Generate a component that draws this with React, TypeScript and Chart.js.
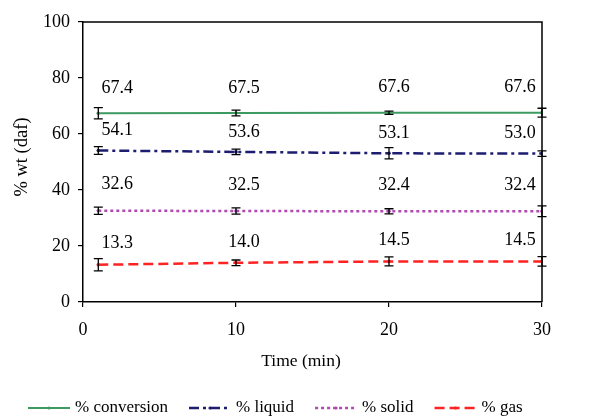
import React, { useEffect, useRef } from 'react';
import { Chart, registerables } from 'chart.js';

Chart.register(...registerables);

// ---- data ----
const times = [1, 10, 20, 30];
const seriesNames = ['% conversion', '% liquid', '% solid', '% gas'];
const conversion = [67.4, 67.5, 67.6, 67.6];
const liquid = [54.1, 53.6, 53.1, 53.0];
const solid = [32.6, 32.5, 32.4, 32.4];
const gas = [13.3, 14.0, 14.5, 14.5];
const conversionErr = [2.0, 1.0, 0.6, 1.6];
const liquidErr = [1.4, 1.0, 2.0, 1.0];
const solidErr = [1.3, 1.1, 0.9, 1.9];
const gasErr = [2.2, 1.0, 1.6, 1.7];
const xTickValues = [0, 10, 20, 30];
const yTickValues = [0, 20, 40, 60, 80, 100];
const xTitle = 'Time (min)';
const yTitle = '% wt (daf)';

// ---- styles ----
const FONT = "'Liberation Serif', 'Times New Roman', serif";
const colors = ['#3d9a60', '#1c1c70', '#b04ab0', '#ff2222'];
const dashes: number[][] = [[], [10, 4, 3, 4], [3, 3], [10, 5]];
const widths = [2, 2.5, 2.5, 2.5];
const labelDx = [19, 8, 5, -22];
const labelDy = [25, 20, 26, 21];

const errSets = [conversionErr, liquidErr, solidErr, gasErr];
const valueSets = [conversion, liquid, solid, gas];

const errorBarPlugin = {
  id: 'errorBars',
  afterDatasetsDraw(chart: any) {
    const ctx = chart.ctx;
    const yScale = chart.scales.y;
    ctx.save();
    ctx.strokeStyle = '#000';
    ctx.lineWidth = 1.3;
    ctx.setLineDash([]);
    chart.data.datasets.forEach((ds: any, di: number) => {
      const meta = chart.getDatasetMeta(di);
      meta.data.forEach((pt: any, i: number) => {
        const v = ds.data[i].y;
        const e = errSets[di][i];
        const yTop = yScale.getPixelForValue(v + e);
        const yBot = yScale.getPixelForValue(v - e);
        const x = pt.x;
        ctx.beginPath();
        ctx.moveTo(x, yTop);
        ctx.lineTo(x, yBot);
        ctx.moveTo(x - 4.5, yTop);
        ctx.lineTo(x + 4.5, yTop);
        ctx.moveTo(x - 4.5, yBot);
        ctx.lineTo(x + 4.5, yBot);
        ctx.stroke();
      });
    });
    ctx.restore();
  },
};

const valueLabelPlugin = {
  id: 'valueLabels',
  afterDatasetsDraw(chart: any) {
    const ctx = chart.ctx;
    ctx.save();
    ctx.fillStyle = '#000';
    ctx.font = `18px ${FONT}`;
    ctx.textAlign = 'center';
    ctx.textBaseline = 'middle';
    chart.data.datasets.forEach((ds: any, di: number) => {
      const meta = chart.getDatasetMeta(di);
      meta.data.forEach((pt: any, i: number) => {
        const v = valueSets[di][i];
        ctx.fillText(v.toFixed(1), pt.x + labelDx[i], pt.y - labelDy[di]);
      });
    });
    ctx.restore();
  },
};

const framePlugin = {
  id: 'frame',
  afterDraw(chart: any) {
    const { ctx, chartArea } = chart;
    ctx.save();
    ctx.strokeStyle = '#000';
    ctx.lineWidth = 1.5;
    ctx.beginPath();
    ctx.moveTo(chartArea.left, chartArea.top);
    ctx.lineTo(chartArea.right, chartArea.top);
    ctx.lineTo(chartArea.right, chartArea.bottom);
    ctx.stroke();
    ctx.restore();
  },
};

const titlesPlugin = {
  id: 'axisTitles',
  afterDraw(chart: any) {
    const ctx = chart.ctx;
    ctx.save();
    ctx.fillStyle = '#000';
    ctx.textAlign = 'center';
    ctx.textBaseline = 'middle';
    ctx.font = `17.5px ${FONT}`;
    ctx.fillText(xTitle, 301, 361);
    ctx.translate(22, 157);
    ctx.rotate(-Math.PI / 2);
    ctx.font = `18.5px ${FONT}`;
    ctx.fillText(yTitle, 0, 0);
    ctx.restore();
  },
};

const legendPlugin = {
  id: 'customLegend',
  afterDraw(chart: any) {
    const ctx = chart.ctx;
    const y = 408;
    let x = 28;
    ctx.save();
    ctx.font = `17px ${FONT}`;
    ctx.textBaseline = 'middle';
    ctx.textAlign = 'left';
    chart.data.datasets.forEach((ds: any, di: number) => {
      ctx.strokeStyle = colors[di];
      ctx.lineWidth = widths[di];
      ctx.setLineDash(dashes[di]);
      ctx.beginPath();
      ctx.moveTo(x, y);
      ctx.lineTo(x + 42, y);
      ctx.stroke();
      ctx.setLineDash([]);
      ctx.fillStyle = colors[di];
      ctx.beginPath();
      ctx.arc(x + 21, y, 1.6, 0, Math.PI * 2);
      ctx.fill();
      ctx.fillStyle = '#000';
      ctx.fillText(ds.label, x + 47, y);
      x += 47 + ctx.measureText(ds.label).width + 21;
    });
    ctx.restore();
  },
};

export default function App() {
  const ref = useRef<HTMLCanvasElement | null>(null);

  useEffect(() => {
    if (!ref.current) return;
    const datasets = valueSets.map((vals, di) => ({
      label: seriesNames[di],
      data: vals.map((v, i) => ({ x: times[i], y: v })),
      borderColor: colors[di],
      backgroundColor: colors[di],
      borderWidth: widths[di],
      borderDash: dashes[di],
      pointRadius: 1.8,
      pointBorderWidth: 0,
      pointBackgroundColor: colors[di],
      tension: 0,
      fill: false,
    }));
    const chart = new Chart(ref.current, {
      type: 'line',
      data: { datasets },
      options: {
        animation: false,
        responsive: false,
        maintainAspectRatio: false,
        layout: { padding: { top: 22, left: 0, right: 53, bottom: 35 } },
        scales: {
          x: {
            type: 'linear',
            min: 0,
            max: 30,
            afterBuildTicks: (s: any) => {
              s.ticks = xTickValues.map((v) => ({ value: v }));
            },
            afterFit: (s: any) => {
              s.height = 80;
            },
            border: { display: true, color: '#000', width: 1.5 },
            grid: { display: true, drawOnChartArea: false, drawTicks: true, tickLength: 5, color: '#000', lineWidth: 1.2 },
            ticks: { color: '#000', font: { family: FONT, size: 18 }, padding: 12, maxRotation: 0 },
            title: { display: false },
          },
          y: {
            type: 'linear',
            min: 0,
            max: 100,
            afterBuildTicks: (s: any) => {
              s.ticks = yTickValues.map((v) => ({ value: v }));
            },
            afterFit: (s: any) => {
              s.width = 83;
            },
            border: { display: true, color: '#000', width: 1.5 },
            grid: { display: true, drawOnChartArea: false, drawTicks: true, tickLength: 5, color: '#000', lineWidth: 1.2 },
            ticks: { color: '#000', font: { family: FONT, size: 18 }, padding: 8 },
            title: { display: false },
          },
        },
        plugins: {
          legend: { display: false },
          tooltip: { enabled: false },
        },
      },
      plugins: [errorBarPlugin, valueLabelPlugin, framePlugin, titlesPlugin, legendPlugin],
    } as any);
    return () => chart.destroy();
  }, []);

  return (
    <div style={{ position: 'absolute', left: 0, top: 0, width: 595, height: 417, background: '#fff' }}>
      <canvas ref={ref} width={595} height={417} />
    </div>
  );
}
